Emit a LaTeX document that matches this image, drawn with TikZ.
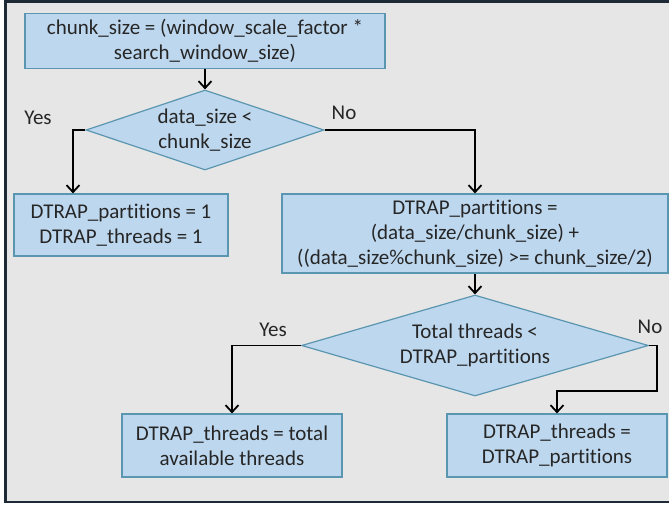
\documentclass[tikz,border=0pt]{standalone}
\usepackage{fontspec}
\setmainfont{Carlito}[Ligatures={NoCommon}]
\usetikzlibrary{shapes.geometric,arrows.meta,calc}
\definecolor{bg}{HTML}{E7E6E6}
\definecolor{framec}{HTML}{1E2B36}
\definecolor{boxfill}{HTML}{BDD7EE}
\definecolor{boxline}{HTML}{5A96B0}
\definecolor{txt}{HTML}{262626}
\begin{document}
\begin{tikzpicture}[x=1pt,y=-1pt,
  box/.style={draw=boxline, fill=boxfill, line width=1.2pt, inner sep=0pt, align=center, font=\fontsize{21}{25}\selectfont, text=txt},
  diam/.style={diamond, draw=boxline, fill=boxfill, line width=1.2pt, inner sep=0pt},
  lbl/.style={font=\fontsize{21}{25}\selectfont, text=txt, align=center, inner sep=0pt},
  arr/.style={-{Straight Barb[length=7pt,width=13pt]}, line width=1.8pt, black}]
\useasboundingbox (0,0) rectangle (669,504);
\clip (0,0) rectangle (669,504);
\fill[white] (0,0) rectangle (669,504);
\draw[framec, fill=bg, line width=2.6pt] (5.5,1.5) rectangle (690,502);

\node[box, minimum width=360pt, minimum height=55pt] (b1) at (205,41) {chunk\_size = (window\_scale\_factor *\\search\_window\_size)};
\node[diam, minimum width=238pt, minimum height=80pt] (d1) at (205,130) {};
\node[lbl] (t1) at (d1) {data\_size <\\chunk\_size};
\node[box, minimum width=214pt, minimum height=62pt] (b2) at (121,225) {DTRAP\_partitions = 1\\DTRAP\_threads = 1};
\node[box, minimum width=386pt, minimum height=79pt] (b3) at (475,233.5) {DTRAP\_partitions =\\(data\_size/chunk\_size) +\\((data\_size\%chunk\_size) >= chunk\_size/2)};
\node[diam, minimum width=347pt, minimum height=101pt] (d2) at (475,345.5) {};
\node[lbl] (t2) at (d2) {Total threads <\\DTRAP\_partitions};
\node[box, minimum width=220pt, minimum height=63pt] (b4) at (232,445.5) {DTRAP\_threads = total\\available threads};
\node[box, minimum width=220pt, minimum height=63pt] (b5) at (557,445.5) {DTRAP\_threads =\\DTRAP\_partitions};

\node[lbl] (y1) at (38,118) {Yes};
\node[lbl] (n1) at (344,113) {No};
\node[lbl] (y2) at (273,330) {Yes};
\node[lbl] (n2) at (650,327) {No};

\coordinate (c1) at (73,130);
\coordinate (c2) at (657,345.5);
\coordinate (c3) at (657,391);

\draw[arr] (b1.south) -- (d1.north);
\draw[arr] (d1.west) -- (c1) -- (c1 |- b2.north);
\draw[arr] (d1.east) -| (b3.north);
\draw[arr] (b3.south) -- (d2.north);
\draw[arr] (d2.west) -| (b4.north);
\draw[arr] (d2.east) -- (c2) -- (c3) -| (b5.north);
\end{tikzpicture}
\end{document}
